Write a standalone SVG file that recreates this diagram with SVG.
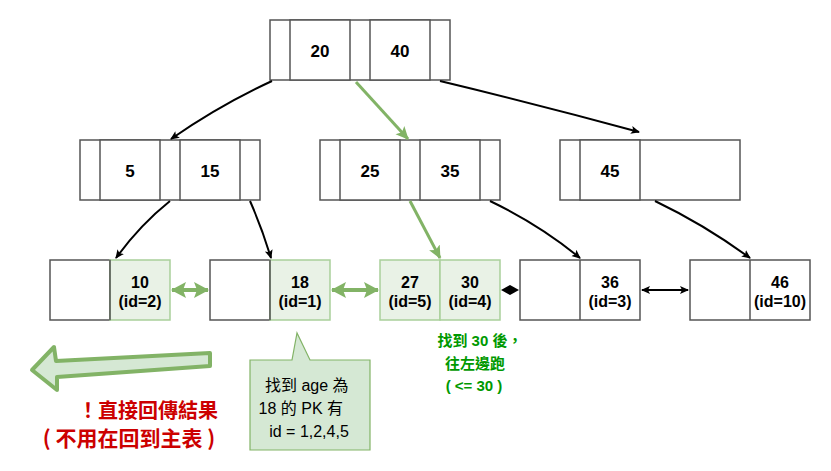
<svg xmlns="http://www.w3.org/2000/svg" width="831" height="471" viewBox="0 0 831 471">
<style>
.b{fill:#fff;stroke:#555;stroke-width:1.5}
.g{fill:#e9f2e6;stroke:#a9cf9a;stroke-width:1.5}
.k{font-family:"Liberation Sans",Arial,sans-serif;font-weight:bold;font-size:17px;fill:#000;text-anchor:middle}
.l{font-family:"Liberation Sans",Arial,sans-serif;font-weight:bold;font-size:16px;fill:#000;text-anchor:middle}
.a{fill:none;stroke:#000;stroke-width:2}
.ga{fill:none;stroke:#82b366;stroke-width:3}
.gs{fill:none;stroke:#82b366;stroke-width:4}
</style>
<defs>
<marker id="ab" markerWidth="10" markerHeight="10" refX="8" refY="5" orient="auto" markerUnits="userSpaceOnUse"><path d="M0,1 L9,5 L0,9 L2,5 Z" fill="#000"/></marker>
<marker id="abs" markerWidth="10" markerHeight="10" refX="1" refY="5" orient="auto" markerUnits="userSpaceOnUse"><path d="M9,1 L0,5 L9,9 L7,5 Z" fill="#000"/></marker>
<marker id="ag" markerWidth="14" markerHeight="14" refX="12" refY="7" orient="auto" markerUnits="userSpaceOnUse"><path d="M0,1 L13,7 L0,13 L3,7 Z" fill="#82b366"/></marker>
<marker id="gh" markerWidth="16" markerHeight="18" refX="14" refY="9" orient="auto" markerUnits="userSpaceOnUse"><path d="M0,1 L15,9 L0,17 L3,9 Z" fill="#82b366"/></marker>
<marker id="ghs" markerWidth="16" markerHeight="18" refX="1" refY="9" orient="auto" markerUnits="userSpaceOnUse"><path d="M15,1 L0,9 L15,17 L12,9 Z" fill="#82b366"/></marker>
</defs>

<g id="root">
<rect class="b" x="270" y="20" width="180" height="60"/>
<rect class="b" x="290" y="20" width="60" height="60"/>
<rect class="b" x="370" y="20" width="60" height="60"/>
<text class="k" x="320" y="57">20</text>
<text class="k" x="400" y="57">40</text>
</g>

<g id="mid1">
<rect class="b" x="80" y="140" width="180" height="60"/>
<rect class="b" x="100" y="140" width="60" height="60"/>
<rect class="b" x="180" y="140" width="60" height="60"/>
<text class="k" x="130" y="177">5</text>
<text class="k" x="210" y="177">15</text>
</g>

<g id="mid2">
<rect class="b" x="320" y="140" width="180" height="60"/>
<rect class="b" x="340" y="140" width="60" height="60"/>
<rect class="b" x="420" y="140" width="60" height="60"/>
<text class="k" x="370" y="177">25</text>
<text class="k" x="450" y="177">35</text>
</g>

<g id="mid3">
<rect class="b" x="560" y="140" width="180" height="60"/>
<rect class="b" x="580" y="140" width="60" height="60"/>
<text class="k" x="610" y="177">45</text>
</g>

<g id="leaf1">
<rect class="b" x="50" y="260" width="60" height="60"/>
<rect class="g" x="110" y="260" width="60" height="60"/>
<line x1="110" y1="260" x2="110" y2="320" stroke="#555" stroke-width="1.5"/>
<text class="l" x="140" y="288">10</text>
<text class="l" x="140" y="307">(id=2)</text>
</g>

<g id="leaf2">
<rect class="b" x="210" y="260" width="60" height="60"/>
<rect class="g" x="270" y="260" width="60" height="60"/>
<line x1="270" y1="260" x2="270" y2="320" stroke="#555" stroke-width="1.5"/>
<text class="l" x="300" y="288">18</text>
<text class="l" x="300" y="307">(id=1)</text>
</g>

<g id="leaf3">
<rect class="g" x="380" y="260" width="60" height="60"/>
<rect class="g" x="440" y="260" width="60" height="60"/>
<text class="l" x="410" y="288">27</text>
<text class="l" x="410" y="307">(id=5)</text>
<text class="l" x="470" y="288">30</text>
<text class="l" x="470" y="307">(id=4)</text>
</g>

<g id="leaf4">
<rect class="b" x="520" y="260" width="120" height="60"/>
<line x1="580" y1="260" x2="580" y2="320" stroke="#555" stroke-width="1.5"/>
<text class="l" x="610" y="288">36</text>
<text class="l" x="610" y="307">(id=3)</text>
</g>

<g id="leaf5">
<rect class="b" x="690" y="260" width="120" height="60"/>
<line x1="750" y1="260" x2="750" y2="320" stroke="#555" stroke-width="1.5"/>
<text class="l" x="780" y="288">46</text>
<text class="l" x="780" y="307">(id=10)</text>
</g>

<g id="connectors">
<path class="a" d="M272,81 Q220,105 171,139" marker-end="url(#ab)"/>
<path class="ga" d="M356,82 L408,139" marker-end="url(#ag)"/>
<path class="a" d="M440,81 Q540,105 639,132" marker-end="url(#ab)"/>
<path class="a" d="M170,201 Q140,225 116,258" marker-end="url(#ab)"/>
<path class="a" d="M250,201 Q262,228 271,258" marker-end="url(#ab)"/>
<path class="ga" d="M410,201 L440,258" marker-end="url(#ag)"/>
<path class="a" d="M490,201 Q540,225 580,258" marker-end="url(#ab)"/>
<path class="a" d="M655,201 Q705,225 750,258" marker-end="url(#ab)"/>
<path class="gs" d="M172,290 L208,290" marker-start="url(#ghs)" marker-end="url(#gh)"/>
<path class="gs" d="M332,290 L378,290" marker-start="url(#ghs)" marker-end="url(#gh)"/>
<path d="M501,290 L510,285 L519,290 L510,295 Z" fill="#000"/>
<path class="a" d="M642,290 L688,290" marker-start="url(#abs)" marker-end="url(#ab)"/>
</g>

<g id="bigarrow">
<path d="M32,370 L54,347 L56,361 L210,353 L210,366 L57,377 L57,390 Z" fill="#d5e8d4" stroke="#82b366" stroke-width="4" stroke-linejoin="round"/>
</g>

<g id="note-red">
<text x="148" y="418" font-family="'Noto Sans CJK TC','Liberation Sans',sans-serif" font-weight="bold" font-size="20" fill="#cc0000" text-anchor="middle">！直接回傳結果</text>
<text x="129" y="446" font-family="'Noto Sans CJK TC','Liberation Sans',sans-serif" font-weight="bold" font-size="21" fill="#cc0000" text-anchor="middle">( 不用在回到主表 )</text>
</g>

<g id="callout">
<path d="M250,360 L292,360 L297,333 L310,360 L370,360 L370,450 L250,450 Z" fill="#d5e8d4" stroke="#82b366" stroke-width="1.2"/>
<text font-family="'Liberation Sans','Noto Sans CJK TC',sans-serif" font-size="16" fill="#000" text-anchor="middle">
<tspan x="309" y="391">找到 age 為</tspan>
<tspan x="303" y="414">18 的 PK 有</tspan>
<tspan x="309" y="437">id = 1,2,4,5</tspan>
</text>
</g>

<g id="note-green">
<text font-family="'Liberation Sans','Noto Sans CJK TC',sans-serif" font-weight="bold" font-size="15" fill="#009900" text-anchor="middle">
<tspan x="482" y="346">找到 30 後，</tspan>
<tspan x="477" y="369">往左邊跑</tspan>
<tspan x="474" y="391">( &lt;= 30 )</tspan>
</text>
</g>
</svg>
